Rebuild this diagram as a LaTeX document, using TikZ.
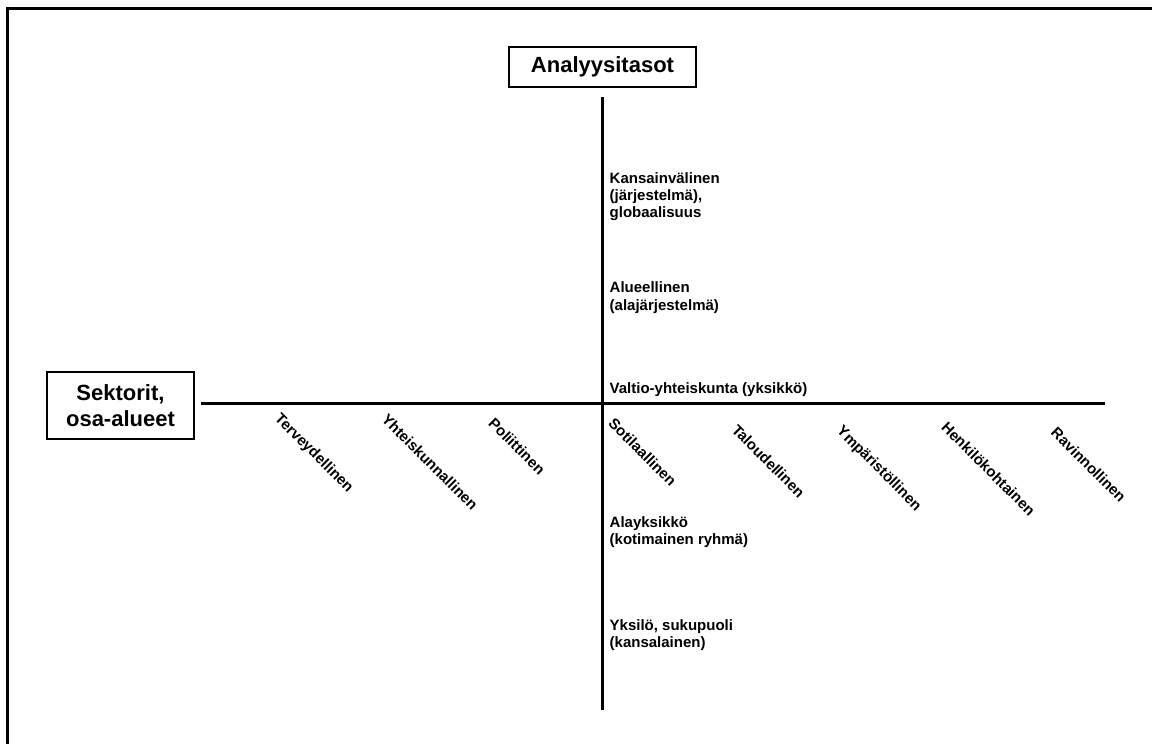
\documentclass[tikz,border=0pt]{standalone}
\usepackage{fontspec}
\setmainfont{Liberation Sans}
\begin{document}
\begin{tikzpicture}[x=1pt,y=-1pt,
  titlebox/.style={draw,line width=2pt,inner sep=0pt,align=center,
    font=\fontsize{22}{26}\selectfont\bfseries},
  levellabel/.style={anchor=base west,inner sep=0pt,align=left,
    font=\fontsize{15}{17.3}\selectfont\bfseries},
  sectorlabel/.style={anchor=base west,inner sep=0pt,rotate=-45,
    font=\fontsize{15}{17.3}\selectfont\bfseries},
  axis/.style={line width=2.6pt}]
\useasboundingbox (0,0) rectangle (1152,744);

% outer frame (top and left edges)
\draw[line width=2.6pt] (7.3,744) -- (7.3,8.7) -- (1152,8.7);

% title boxes
\node[titlebox,minimum width=187pt,minimum height=40pt] (levels) at (602.5,67) {Analyysitasot};
\node[titlebox,minimum width=147pt,minimum height=67pt] (sectors) at (120.5,405.5) {Sektorit,\\osa-alueet};

% axes
\coordinate (vtop) at (602.5,97);
\coordinate (vbot) at (602.5,710);
\coordinate (hleft) at (201,403.7);
\coordinate (hright) at (1105,403.7);
\draw[axis] (vtop) -- (vbot);
\draw[axis] (hleft) -- (hright);

% levels of analysis (anchored at the baseline of the last line)
\node[levellabel] (intl) at (609.5,217.6) {Kansainvälinen\\(järjestelmä),\\globaalisuus};
\node[levellabel] (region) at (609.5,310) {Alueellinen\\(alajärjestelmä)};
\node[levellabel] (state) at (609.5,393.6) {Valtio-yhteiskunta (yksikkö)};
\node[levellabel] (subunit) at (609.5,544.6) {Alayksikkö\\(kotimainen ryhmä)};
\node[levellabel] (indiv) at (609.5,647.3) {Yksilö, sukupuoli\\(kansalainen)};

% sectors
\node[sectorlabel] (health) at (274,419.3) {Terveydellinen};
\node[sectorlabel] (societal) at (380.7,420.3) {Yhteiskunnallinen};
\node[sectorlabel] (political) at (487.4,424.3) {Poliittinen};
\node[sectorlabel] (military) at (607.4,424.3) {Sotilaallinen};
\node[sectorlabel] (economic) at (730.7,431) {Taloudellinen};
\node[sectorlabel] (environ) at (836,431.8) {Ympäristöllinen};
\node[sectorlabel] (personal) at (940.4,428.2) {Henkilökohtainen};
\node[sectorlabel] (food) at (1050,433.6) {Ravinnollinen};
\end{tikzpicture}
\end{document}
